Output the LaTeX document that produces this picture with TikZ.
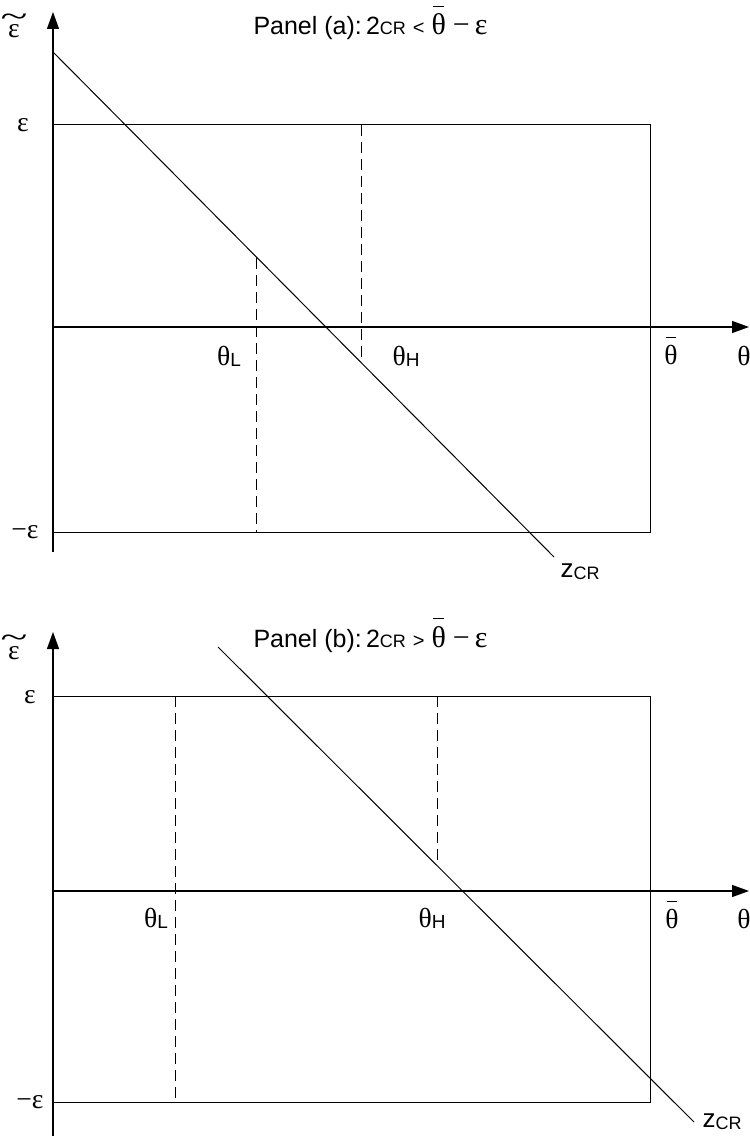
\documentclass[tikz,border=0pt]{standalone}
\usepackage{fontspec}
\setmainfont{Liberation Sans}
\newfontfamily\gr[Scale=1.2]{Liberation Serif}
\usetikzlibrary{arrows.meta}
\newcommand\grk[1]{{\gr #1}}
\newcommand\thbar{{\gr\ooalign{\hfil\raisebox{0.95em}{\rule{0.36em}{0.9pt}}\hfil\cr\hfil θ\hfil\cr}}}
\newcommand\epstil{{\gr\ooalign{\hfil\raisebox{0.4em}{\scalebox{1.8}[1.1]{\char"7E}}\hfil\cr\hfil ε\hfil\cr}}}
\newcommand\smallcr{{\fontsize{18}{18}\selectfont CR}}
\newcommand\subsc[1]{\raisebox{-1pt}{\fontsize{19}{19}\selectfont #1}}
\begin{document}
\begin{tikzpicture}[x=1pt,y=-1pt,line width=1pt,
  axisline/.style={line width=1.3pt,-{Triangle[length=17pt,width=12pt]}},
  dashline/.style={dash pattern=on 11pt off 6pt},
  lbl/.style={inner sep=0pt,anchor=base,font=\fontsize{23}{26}\selectfont},
  zlbl/.style={inner sep=0pt,anchor=base,font=\fontsize{26}{28}\selectfont},
  ttl/.style={inner sep=0pt,anchor=base west,font=\fontsize{25}{28}\selectfont}]
\useasboundingbox[fill=white] (0,0) rectangle (749,1139);
% ---------- Panel (a)
\coordinate (aB) at (53,552);
\coordinate (aT) at (53,12);
\coordinate (aO) at (53,327);
\coordinate (aX) at (749,327);
\coordinate (aTL) at (53,125);
\coordinate (aTR) at (650,125);
\coordinate (aBR) at (650,532);
\coordinate (aBL) at (53,532);
\coordinate (aZ1) at (53,52);
\coordinate (aZ2) at (554,557);
\coordinate (aL1) at (256,258);
\coordinate (aL2) at (256,532);
\coordinate (aH1) at (361,125);
\coordinate (aH2) at (361,362);
\draw[axisline] (aB) -- (aT);
\draw[axisline] (aO) -- (aX);
\draw (aTL) -- (aTR) -- (aBR) -- (aBL);
\draw (aZ1) -- (aZ2);
\draw[dashline] (aL1) -- (aL2);
\draw[dashline] (aH1) -- (aH2);
\node[ttl] (atitle) at (253,35) {Panel (a):\,2\smallcr{} {\fontsize{20}{20}\selectfont<}\ \thbar\ \grk{−\,ε}};
\node[lbl] (aeps) at (14,38) {\epstil};
\node[lbl] (aepshi) at (23,132) {\grk{ε}};
\node[lbl] (aepslo) at (25,538) {\grk{−ε}};
\node[lbl] (athL) at (229,365) {\grk{θ}\subsc{L}};
\node[lbl] (athH) at (406,365) {\grk{θ}\subsc{H}};
\node[lbl] (athb) at (671,364) {\thbar};
\node[lbl] (ath) at (744,365) {\grk{θ}};
\node[zlbl] (azcr) at (580,577) {z\raisebox{-2pt}{\smallcr}};
% ---------- Panel (b)
\coordinate (bB) at (53,1136);
\coordinate (bT) at (53,632);
\coordinate (bO) at (53,891);
\coordinate (bX) at (749,891);
\coordinate (bTL) at (53,696);
\coordinate (bTR) at (650,696);
\coordinate (bBR) at (650,1102);
\coordinate (bBL) at (53,1102);
\coordinate (bZ1) at (218,647);
\coordinate (bZ2) at (694,1122);
\coordinate (bL1) at (175,696);
\coordinate (bL2) at (175,1102);
\coordinate (bH1) at (437,696);
\coordinate (bH2) at (437,866);
\draw[axisline] (bB) -- (bT);
\draw[axisline] (bO) -- (bX);
\draw (bTL) -- (bTR) -- (bBR) -- (bBL);
\draw (bZ1) -- (bZ2);
\draw[dashline] (bL1) -- (bL2);
\draw[dashline] (bH1) -- (bH2);
\node[ttl] (btitle) at (253,647) {Panel (b):\,2\smallcr{} {\fontsize{20}{20}\selectfont>}\ \thbar\ \grk{−\,ε}};
\node[lbl] (beps) at (14,659) {\epstil};
\node[lbl] (bepshi) at (30,703) {\grk{ε}};
\node[lbl] (bepslo) at (30,1108) {\grk{−ε}};
\node[lbl] (bthL) at (156,927) {\grk{θ}\subsc{L}};
\node[lbl] (bthH) at (432,927) {\grk{θ}\subsc{H}};
\node[lbl] (bthb) at (672,928) {\thbar};
\node[lbl] (bth) at (744,928) {\grk{θ}};
\node[zlbl] (bzcr) at (722,1127) {z\raisebox{-2pt}{\smallcr}};
\end{tikzpicture}
\end{document}
